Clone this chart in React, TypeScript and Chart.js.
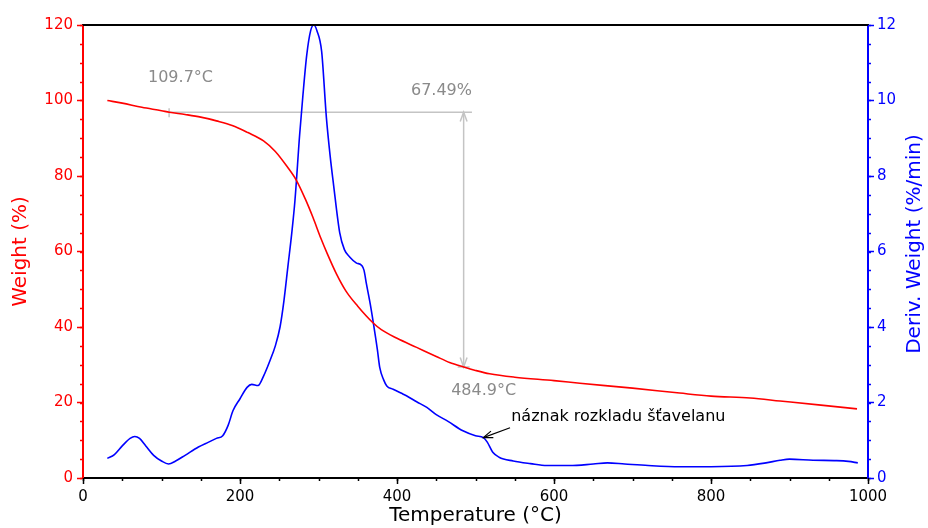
import React, { useEffect, useRef } from "react";
import { Chart, registerables } from "chart.js";

Chart.register(...registerables);

// ---------- data ----------
const weightTemp = [31, 50, 75, 100, 110, 130, 150, 170, 190, 210, 230, 245, 260, 272, 283, 293, 303, 311, 323, 335, 350, 369, 380, 400, 425, 450, 467, 485, 500, 518, 550, 600, 633, 700, 760, 800, 850, 888, 940, 986];
const weightPct = [100.0, 99.3, 98.2, 97.3, 96.9, 96.3, 95.6, 94.6, 93.4, 91.5, 89.3, 86.5, 82.5, 78.8, 74.0, 69.0, 63.5, 59.5, 54.0, 49.5, 45.5, 41.2, 39.3, 37.0, 34.6, 32.2, 30.6, 29.4, 28.5, 27.6, 26.7, 25.8, 25.1, 23.8, 22.5, 21.7, 21.2, 20.4, 19.3, 18.3];

const derivTemp = [31, 40, 50, 60, 66, 72, 80, 90, 100, 109, 118, 130, 147, 160, 170, 178, 185, 191, 200, 209, 215, 223, 230, 238, 245, 251, 256, 261, 266, 270, 276, 280, 285, 290, 294, 298, 304, 310, 315, 319, 327, 333, 340, 348, 355, 358, 361, 366, 370, 375, 378, 383, 387, 395, 405, 412, 425, 438, 450, 465, 484, 500, 510, 515, 522, 530, 548, 570, 591, 620, 650, 668, 690, 720, 760, 800, 846, 870, 888, 900, 930, 960, 975, 987];
const derivVal = [0.52, 0.62, 0.85, 1.05, 1.1, 1.05, 0.85, 0.6, 0.45, 0.37, 0.45, 0.6, 0.82, 0.95, 1.05, 1.12, 1.4, 1.78, 2.1, 2.4, 2.48, 2.45, 2.7, 3.1, 3.5, 4.0, 4.7, 5.6, 6.5, 7.35, 9.1, 10.1, 11.2, 11.85, 12.0, 11.85, 11.3, 9.56, 8.5, 7.8, 6.5, 6.05, 5.85, 5.7, 5.63, 5.5, 5.15, 4.6, 4.09, 3.4, 2.93, 2.6, 2.44, 2.35, 2.25, 2.18, 2.02, 1.87, 1.68, 1.5, 1.25, 1.12, 1.07, 0.95, 0.68, 0.55, 0.45, 0.38, 0.33, 0.33, 0.37, 0.4, 0.37, 0.33, 0.3, 0.3, 0.33, 0.4, 0.47, 0.5, 0.47, 0.46, 0.44, 0.4];

// axes
const xTitle = "Temperature (°C)";
const yTitle = "Weight (%)";
const y1Title = "Deriv. Weight (%/min)";

// annotations
const onsetTemp = 109.7;
const endTemp = 484.9;
const lossPct = 67.49;
const onsetWeight = 96.9;
const endWeight = onsetWeight - lossPct;
const onsetLabel = "109.7°C";
const lossLabel = "67.49%";
const endLabel = "484.9°C";
const noteLabel = "náznak rozkladu šťavelanu";
const noteTipTemp = 510;
const noteTipDeriv = 1.07;
const noteTailTemp = 544;
const noteTailDeriv = 1.33;

const FONT = "'DejaVu Sans', Verdana, sans-serif";
const RED = "#ff0000";
const BLUE = "#0000ff";
const GREY_TXT = "#8a8a8a";
const GREY_LN = "#c4c4c4";

function openArrowHead(ctx: CanvasRenderingContext2D, x: number, y: number, angle: number, len: number, spread: number) {
  ctx.beginPath();
  ctx.moveTo(x + Math.cos(angle + spread) * len, y + Math.sin(angle + spread) * len);
  ctx.lineTo(x, y);
  ctx.lineTo(x + Math.cos(angle - spread) * len, y + Math.sin(angle - spread) * len);
  ctx.stroke();
}

const decorPlugin = {
  id: "decor",
  beforeDatasetsDraw(chart: any) {
    const ctx: CanvasRenderingContext2D = chart.ctx;
    const x = chart.scales.x;
    const y = chart.scales.y;
    ctx.save();
    ctx.strokeStyle = GREY_LN;
    ctx.lineWidth = 1.5;
    const xa = x.getPixelForValue(onsetTemp);
    const xb = x.getPixelForValue(endTemp);
    const xe = x.getPixelForValue(495.5);
    const ya = y.getPixelForValue(onsetWeight);
    const yb = y.getPixelForValue(endWeight);
    ctx.beginPath();
    ctx.moveTo(xa, ya);
    ctx.lineTo(xe, ya);
    ctx.stroke();
    ctx.beginPath();
    ctx.moveTo(xa, ya - 4);
    ctx.lineTo(xa, ya + 5);
    ctx.stroke();
    ctx.beginPath();
    ctx.moveTo(xb, ya);
    ctx.lineTo(xb, yb);
    ctx.stroke();
    openArrowHead(ctx, xb, ya, Math.PI / 2, 10, 0.35);
    openArrowHead(ctx, xb, yb, -Math.PI / 2, 10, 0.35);
    ctx.beginPath();
    ctx.moveTo(xb - 6, yb);
    ctx.lineTo(xb + 6, yb);
    ctx.stroke();
    ctx.restore();
  },
  afterDraw(chart: any) {
    const ctx: CanvasRenderingContext2D = chart.ctx;
    const { left, right, top } = chart.chartArea;
    const x = chart.scales.x;
    const y = chart.scales.y;
    const y1 = chart.scales.y1;
    ctx.save();
    ctx.strokeStyle = "#000";
    ctx.lineWidth = 2;
    ctx.beginPath();
    ctx.moveTo(left - 1, top);
    ctx.lineTo(right + 1, top);
    ctx.stroke();

    ctx.lineWidth = 1.5;
    ctx.strokeStyle = RED;
    for (let i = 0; i <= 24; i++) {
      const py = Math.round(y.getPixelForValue(i * 5)) + 0.5;
      ctx.beginPath();
      ctx.moveTo(y.right, py);
      ctx.lineTo(y.right - 3, py);
      ctx.stroke();
    }
    ctx.strokeStyle = BLUE;
    for (let i = 0; i <= 24; i++) {
      const py = Math.round(y1.getPixelForValue(i * 0.5)) + 0.5;
      ctx.beginPath();
      ctx.moveTo(y1.left, py);
      ctx.lineTo(y1.left + 3, py);
      ctx.stroke();
    }
    ctx.strokeStyle = "#000";
    for (let i = 0; i <= 20; i++) {
      const px = Math.round(x.getPixelForValue(i * 50)) + 0.5;
      ctx.beginPath();
      ctx.moveTo(px, x.top);
      ctx.lineTo(px, x.top + 3);
      ctx.stroke();
    }

    ctx.font = `16px ${FONT}`;
    ctx.fillStyle = GREY_TXT;
    ctx.textBaseline = "middle";
    ctx.textAlign = "center";
    ctx.fillText(onsetLabel, x.getPixelForValue(124.2), y.getPixelForValue(106.0));
    ctx.textAlign = "right";
    ctx.fillText(lossLabel, x.getPixelForValue(495.5), y.getPixelForValue(102.5));
    ctx.textAlign = "center";
    ctx.fillText(endLabel, x.getPixelForValue(510.4), y.getPixelForValue(23.2));

    ctx.fillStyle = "#000";
    ctx.textAlign = "left";
    ctx.fillText(noteLabel, x.getPixelForValue(545.5), y1.getPixelForValue(1.62));

    const tx = x.getPixelForValue(noteTipTemp);
    const ty = y1.getPixelForValue(noteTipDeriv);
    const sx = x.getPixelForValue(noteTailTemp);
    const sy = y1.getPixelForValue(noteTailDeriv);
    ctx.strokeStyle = "#000";
    ctx.lineWidth = 1.2;
    ctx.beginPath();
    ctx.moveTo(sx, sy);
    ctx.lineTo(tx, ty);
    ctx.stroke();
    openArrowHead(ctx, tx, ty, Math.atan2(sy - ty, sx - tx), 10, 0.35);

    ctx.save();
    ctx.translate(915, 244);
    ctx.rotate(-Math.PI / 2);
    ctx.font = `20px ${FONT}`;
    ctx.fillStyle = BLUE;
    ctx.textAlign = "center";
    ctx.textBaseline = "middle";
    ctx.fillText(y1Title, 0, 0);
    ctx.restore();

    ctx.restore();
  },
};

export default function App() {
  const ref = useRef<HTMLCanvasElement | null>(null);
  useEffect(() => {
    if (!ref.current) return;
    Chart.defaults.font.family = FONT;
    const chart = new Chart(ref.current, {
      type: "scatter",
      data: {
        datasets: [
          {
            label: "Weight",
            data: weightTemp.map((t, i) => ({ x: t, y: weightPct[i] })),
            showLine: true,
            borderColor: RED,
            backgroundColor: RED,
            borderWidth: 1.6,
            pointRadius: 0,
            cubicInterpolationMode: "monotone",
            yAxisID: "y",
          },
          {
            label: "Deriv. Weight",
            data: derivTemp.map((t, i) => ({ x: t, y: derivVal[i] })),
            showLine: true,
            borderColor: BLUE,
            backgroundColor: BLUE,
            borderWidth: 1.6,
            pointRadius: 0,
            cubicInterpolationMode: "monotone",
            yAxisID: "y1",
          },
        ],
      },
      options: {
        responsive: false,
        animation: false,
        layout: { padding: { top: 25, left: 0, right: 0, bottom: 0 } },
        plugins: { legend: { display: false }, tooltip: { enabled: false } },
        scales: {
          x: {
            type: "linear",
            min: 0,
            max: 1000,
            afterFit: (s: any) => { s.height = 50; },
            ticks: { stepSize: 200, color: "#000", font: { size: 15 }, padding: 4, maxRotation: 0, callback: (v: any) => String(v) },
            grid: { drawOnChartArea: false, drawTicks: true, tickLength: 6, tickColor: "#000", tickWidth: 1.5 },
            border: { color: "#000", width: 2 },
            title: { display: true, text: xTitle, color: "#000", font: { size: 20 }, padding: { top: 0, bottom: 0 } },
          },
          y: {
            type: "linear",
            position: "left",
            min: 0,
            max: 120,
            afterFit: (s: any) => { s.width = 83; },
            ticks: { stepSize: 20, color: RED, font: { size: 15 }, padding: 4, callback: (v: any) => String(v) },
            grid: { drawOnChartArea: false, drawTicks: true, tickLength: 6, tickColor: RED, tickWidth: 1.5 },
            border: { color: RED, width: 2 },
            title: { display: true, text: yTitle, color: RED, font: { size: 20 }, padding: { top: 9, bottom: 0 } },
          },
          y1: {
            type: "linear",
            position: "right",
            min: 0,
            max: 12,
            afterFit: (s: any) => { s.width = 60; },
            ticks: { stepSize: 2, color: BLUE, font: { size: 15 }, padding: 3, callback: (v: any) => String(v) },
            grid: { drawOnChartArea: false, drawTicks: true, tickLength: 6, tickColor: BLUE, tickWidth: 1.5 },
            border: { color: BLUE, width: 2 },
          },
        },
      } as any,
      plugins: [decorPlugin],
    });
    return () => chart.destroy();
  }, []);
  return (
    <div style={{ position: "absolute", left: 0, top: 0, width: 928, height: 528, background: "#fff" }}>
      <canvas ref={ref} width={928} height={528} style={{ display: "block" }} />
    </div>
  );
}
